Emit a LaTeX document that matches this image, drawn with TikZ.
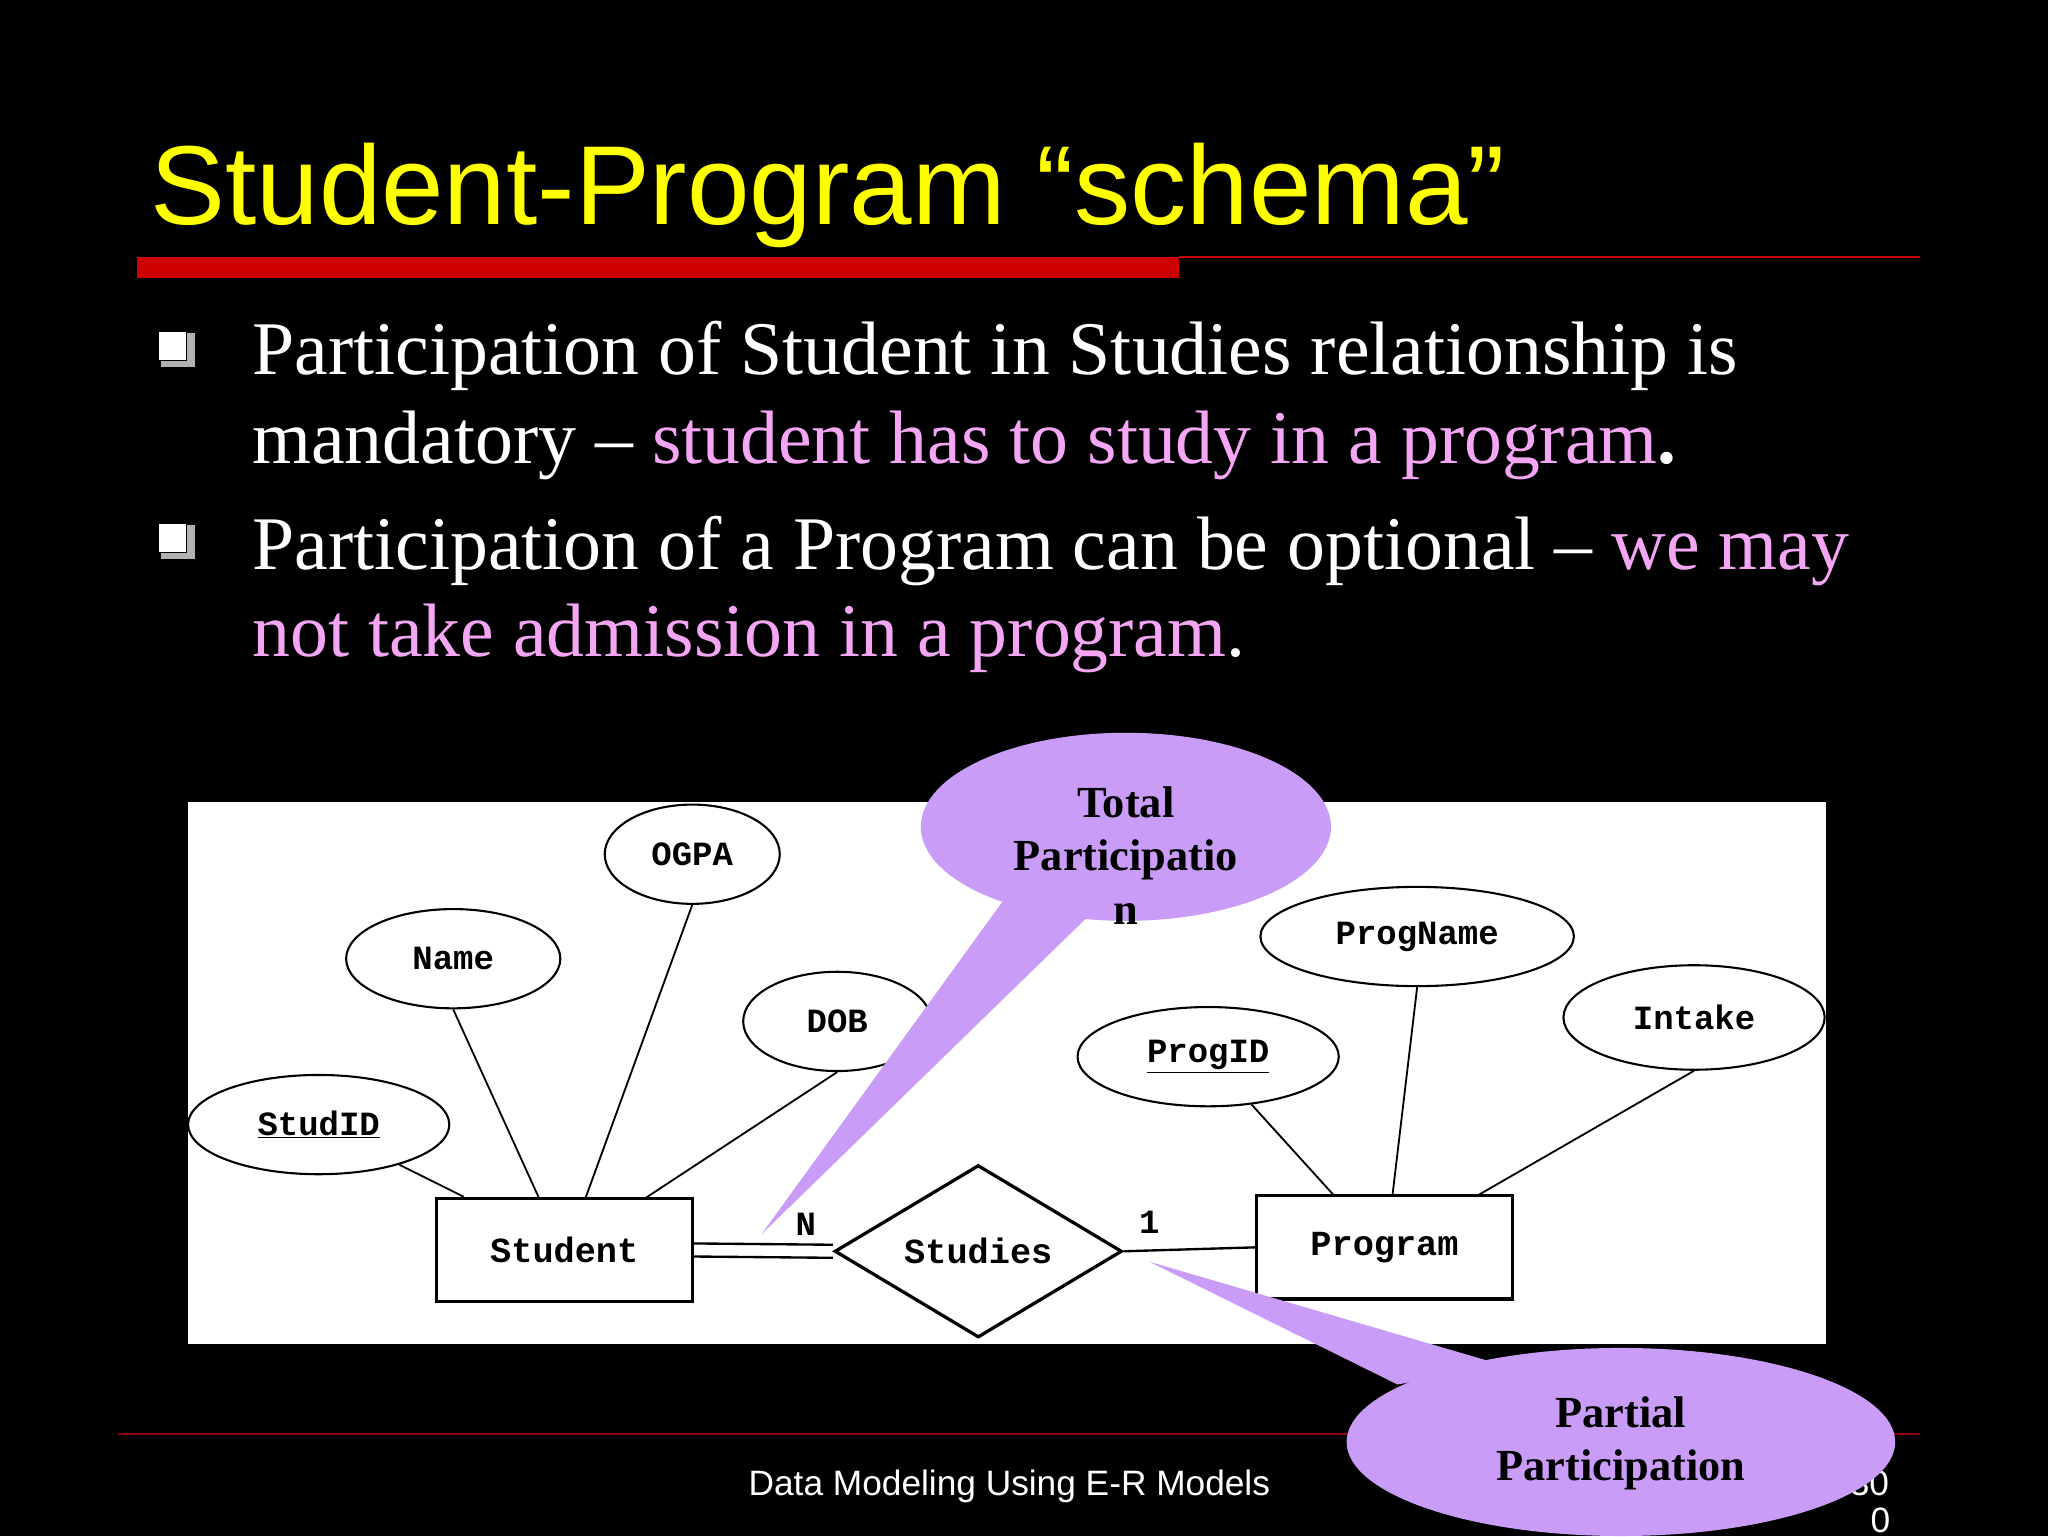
\documentclass[tikz,border=0pt]{standalone}
\usepackage{fontspec}
\setmainfont{Liberation Serif}
\setsansfont{Liberation Sans}
\setmonofont{Liberation Mono}
\usetikzlibrary{shapes.geometric}
\definecolor{pinkt}{HTML}{F4A6F4}
\definecolor{callout}{HTML}{C99CF7}
\definecolor{titley}{HTML}{FFFF00}
\definecolor{barred}{HTML}{CC0000}
\tikzset{
 attr/.style={ellipse,draw=black,line width=1.6pt,fill=white,minimum width=#1,minimum height=76pt,inner sep=0pt,font=\ttfamily\bfseries\fontsize{26}{26}\selectfont},
 ent/.style={rectangle,draw=black,line width=2.5pt,minimum width=196pt,minimum height=79pt,font=\ttfamily\bfseries\fontsize{27}{27}\selectfont},
 con/.style={line width=1.4pt,black},
 body/.style={anchor=base west,text=white,font=\fontsize{58}{58}\selectfont,inner sep=0pt},
 callt/.style={font=\bfseries\fontsize{34}{41}\selectfont,align=center,text=black},
}
\begin{document}
\begin{tikzpicture}[x=1pt,y=-1pt]
\fill[black] (0,0) rectangle (1568,1176);
\useasboundingbox (0,0) rectangle (1568,1176);
\node[anchor=base west,inner sep=0pt,text=titley,font=\sffamily\fontsize{86}{86}\selectfont] (title) at (115,172) {Student-Program “schema”};
\fill[barred] (105,197) rectangle (903,213);
\draw[barred,line width=1.5pt] (903,197) -- (1470,197);
% bullets
\foreach \n/\y in {b1/265,b2/412}{
 \fill[gray!60] (123,\y-10) rectangle (149,\y+16);
 \node[draw=black,line width=1pt,fill=white,minimum size=22pt,inner sep=0pt] (\n) at (132,\y) {};
}
\node[body] (l1) at (193,287) {Participation of Student in Studies relationship is};
\node[body] (l2) at (193,355) {mandatory – \textcolor{pinkt}{student has to study in a program}\textbf{.}};
\node[body] (l3) at (193,436) {Participation of a Program can be optional – \textcolor{pinkt}{we may}};
\node[body] (l4) at (193,503) {\textcolor{pinkt}{not take admission in a program}.};
% diagram
\fill[white] (144,614) rectangle (1398,1029);
\node[attr=134pt] (ogpa) at (530,654) {OGPA};
\node[attr=164pt] (name) at (347,734) {Name};
\node[attr=144pt] (dob) at (641,782) {DOB};
\node[attr=200pt] (studid) at (244,861) {\underline{StudID}};
\node[attr=240pt] (progname) at (1085,717) {ProgName};
\node[attr=200pt,minimum height=80pt] (intake) at (1297,779) {Intake};
\node[attr=200pt] (progid) at (925,809) {\underline{ProgID}};
\node[ent] (student) at (432,957) {Student};
\node[ent] (program) at (1060,955) {Program};
\node[diamond,draw=black,line width=2.5pt,aspect=1.67,minimum width=220pt,minimum height=132pt,inner sep=0pt,font=\ttfamily\bfseries\fontsize{27}{27}\selectfont] (studies) at (749,958) {Studies};
\draw[con] (studid) -- (student.north west -| 355,0);
\draw[con] (name.south) -- (413,918);
\draw[con] (ogpa.south) -- (448,918);
\draw[con] (dob.south) -- (493,918);
\draw[con] (progid) -- (1022,916);
\draw[con] (progname.south) -- (1066,916);
\draw[con] (intake.south) -- (1130,916);
\draw[con,line width=1.8pt] ([yshift=-5pt]student.east) -- ([yshift=-5pt]studies.west);
\draw[con,line width=1.8pt] ([yshift=5pt]student.east) -- ([yshift=5pt]studies.west);
\draw[con,line width=1.8pt] (studies.east) -- (program.west);
\node[font=\ttfamily\bfseries\fontsize{26}{26}\selectfont] (nlab) at (617,937) {N};
\node[font=\ttfamily\bfseries\fontsize{26}{26}\selectfont] (onelab) at (880,936) {1};
% footer
\draw[barred!70!black,line width=1pt] (90,1098) -- (1470,1098);
\node[anchor=base west,inner sep=0pt,text=white,font=\sffamily\fontsize{27}{27}\selectfont] (foot) at (573,1145) {Data Modeling Using E-R Models};
\node[anchor=base west,inner sep=0pt,text=white,font=\sffamily\fontsize{27}{27}\selectfont] (pg) at (1416,1145) {30};
\node[anchor=base west,inner sep=0pt,text=white,font=\sffamily\fontsize{27}{27}\selectfont] (pg2) at (1432,1173) {0};
% callouts
\coordinate (tp) at (583,945);
\fill[callout] (775,680) -- (tp) -- (845,690) -- cycle;
\node[ellipse,fill=callout,minimum width=314pt,minimum height=144pt,inner sep=0pt] (total) at (862,633) {};
\node[callt] (totalt) at (862,655) {Total\\Participatio\\n};
\coordinate (pp) at (880,966);
\fill[callout] (1070,1060) -- (pp) -- (1150,1045) -- cycle;
\node[ellipse,fill=callout,minimum width=420pt,minimum height=144pt,inner sep=0pt] (partial) at (1241,1104) {};
\node[callt] (partialt) at (1241,1105) {Partial\\Participation};
\end{tikzpicture}
\end{document}
